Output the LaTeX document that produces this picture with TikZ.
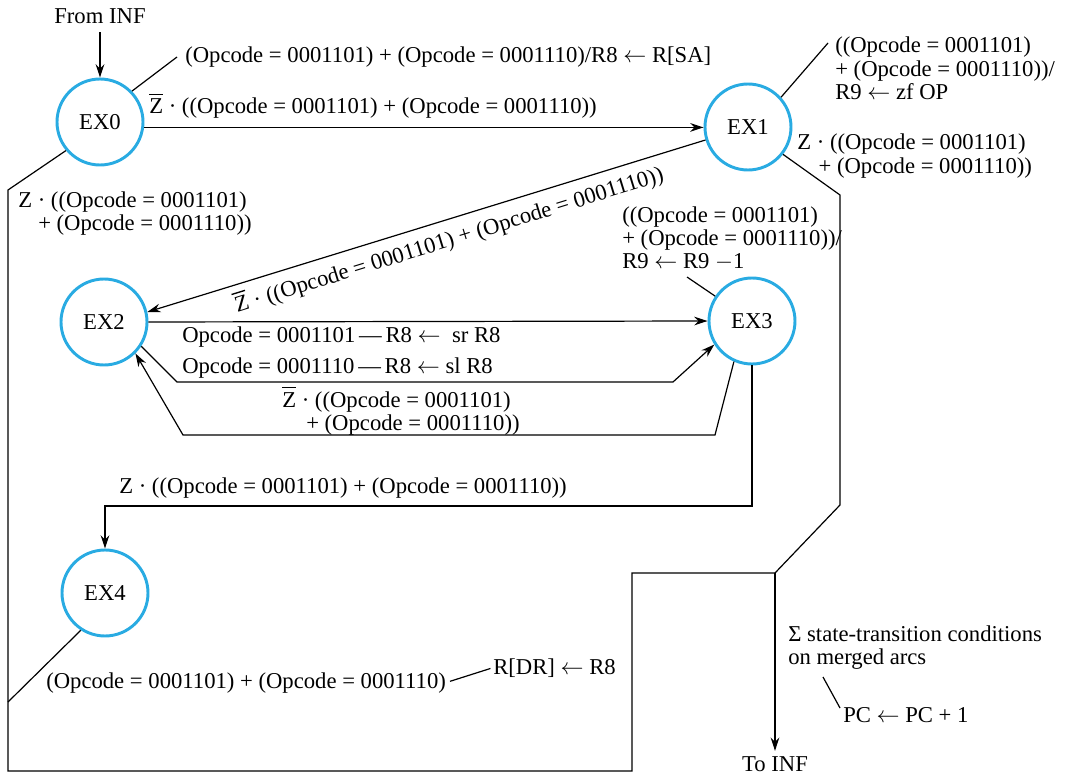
\documentclass[tikz,border=0pt]{standalone}
\usepackage{fontspec}
\setmainfont{Liberation Serif}
\usetikzlibrary{arrows.meta}
\definecolor{stc}{HTML}{29ABE2}
\newcommand\Zb{\makebox[0pt][l]{\rule[0.82em]{0.62em}{0.06em}}Z}
\newcommand\la{\ensuremath{\leftarrow}}
\newcommand\ml[1]{\begin{tabular}[t]{@{}l@{}}#1\end{tabular}}
\begin{document}
\begin{tikzpicture}[x=0.75pt,y=-0.75pt,
  every node/.style={font=\fontsize{17}{17.6}\selectfont, inner sep=0pt},
  state/.style={circle, draw=stc, line width=2.2pt, minimum size=64.5pt, inner sep=0pt},
  lbl/.style={anchor=base west},
  conn/.style={line width=0.9pt, draw=black},
  arr/.style={conn, -{Stealth[length=10pt,width=6.5pt]}},
]
\useasboundingbox (0,0) rectangle (1065,774);

% states
\node[state] (EX0) at (100,122) {EX0};
\node[state] (EX1) at (748,127) {EX1};
\node[state] (EX2) at (104,322) {EX2};
\node[state] (EX3) at (752,321) {EX3};
\node[state] (EX4) at (105,593) {EX4};

% terminals
\node[anchor=base, outer sep=6pt] (from) at (100,24) {From INF};
\node[anchor=base, outer sep=4pt] (toinf) at (775,771) {To INF};

% coordinates
\coordinate (c0) at (177,57);
\coordinate (c1) at (828,43);
\coordinate (c3) at (687,277);
\coordinate (j) at (775,573);
\coordinate (m4) at (8,702);
\coordinate (s1) at (823,677);
\coordinate (s2) at (840,708);

% connectors
\draw[arr] (from) -- (EX0);
\draw[conn] (EX0.44) -- (c0);
\draw[arr] (EX0.-7) -- (EX0.-7 -| EX1.west);
\draw[conn] (EX0.220) -- (8,190) -- (8,771) -- (632,771) -- (632,573) -- (j);
\draw[conn] (EX4.237) -- (m4);
\draw[conn] (EX1.-38) -- (840,195) -- (840,505) -- (j);
\draw[arr] (j) -- (toinf);
\draw[conn] (EX1.42) -- (c1);
\draw[arr] (EX1.197) -- (EX2.13);
\draw[arr] (EX2.east) -- (EX3.west);
\draw[arr] (EX2.-33) -- (177,382) -- (673,382) -- (EX3.212);
\draw[arr] (EX3.246) -- (715,435) -- (183,435) -- (EX2.-45);
\draw[conn] (EX3.146) -- (c3);
\draw[arr] (EX3.south) -- (752,506) -- (105,506) -- (EX4.north);
\draw[conn] (s1) -- (s2);

% labels
\node[lbl] (l0) at (185,63) {(Opcode = 0001101) + (Opcode = 0001110)/R8 \la{} R[SA]};
\node[lbl] (l01) at (149,114) {\Zb{} · ((Opcode = 0001101) + (Opcode = 0001110))};
\node[lbl] (l0d) at (18,207) {\ml{Z · ((Opcode = 0001101)\\ \hspace*{15pt}+ (Opcode = 0001110))}};
\node[lbl] (l1) at (835,53) {\ml{((Opcode = 0001101)\\ + (Opcode = 0001110))/\\ R9 \la{} zf OP}};
\node[lbl] (l1d) at (797,150) {\ml{Z · ((Opcode = 0001101)\\ \hspace*{16pt}+ (Opcode = 0001110))}};
\node[lbl, rotate=17.2] (l12) at (237,313) {\Zb{} · ((Opcode = 0001101) + (Opcode = 0001110))};
\node[lbl] (l3) at (622,222) {\ml{((Opcode = 0001101)\\ + (Opcode = 0001110))/\\ R9 \la{} R9 $-$1}};
\node[lbl] (l23a) at (182,342) {Opcode = 0001101\,—\,R8 \la{}\ \ sr R8};
\node[lbl] (l23b) at (182,373) {Opcode = 0001110\,—\,R8 \la{} sl R8};
\node[lbl] (l32) at (282,407) {\ml{\Zb{} · ((Opcode = 0001101)\\ \hspace*{18pt}+ (Opcode = 0001110))}};
\node[lbl] (l34) at (119,493) {Z · ((Opcode = 0001101) + (Opcode = 0001110))};
\node[lbl] (l4) at (46,688) {(Opcode = 0001101) + (Opcode = 0001110)};
\node[lbl] (rdr) at (493,674) {R[DR] \la{} R8};
\draw[conn, shorten <=3pt, shorten >=2pt] (l4.east) -- (rdr.west);
\node[lbl] (sg) at (788,641) {\ml{Σ state-transition conditions\\ on merged arcs}};
\node[lbl] (pc) at (843,722) {PC \la{} PC + 1};
\end{tikzpicture}
\end{document}
